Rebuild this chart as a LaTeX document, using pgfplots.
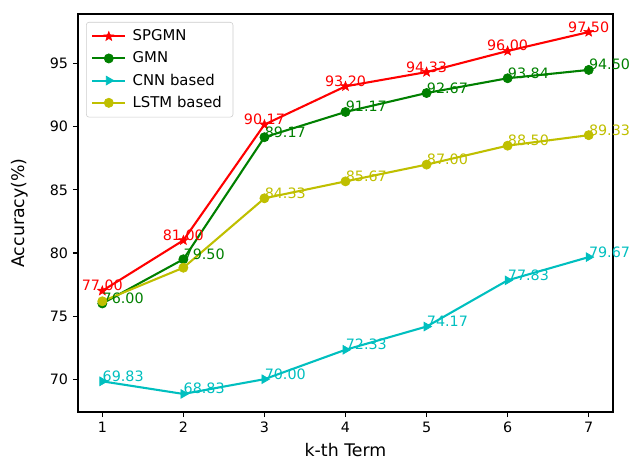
\documentclass[border=0pt]{standalone}
\usepackage{pgfplots}
\pgfplotsset{compat=1.18}
\usepackage{fontspec}
\setmainfont{DejaVu Sans}
\usetikzlibrary{plotmarks}
\definecolor{mplred}{rgb}{1,0,0}
\definecolor{mplgreen}{rgb}{0,0.5,0}
\definecolor{mplcyan}{rgb}{0,0.75,0.75}
\definecolor{mplyellow}{rgb}{0.75,0.75,0}
\pgfdeclareplotmark{fstar}{%
  \pgfpathmoveto{\pgfpointpolar{90}{\pgfplotmarksize}}%
  \pgfpathlineto{\pgfpointpolar{126}{0.42\pgfplotmarksize}}%
  \pgfpathlineto{\pgfpointpolar{162}{\pgfplotmarksize}}%
  \pgfpathlineto{\pgfpointpolar{198}{0.42\pgfplotmarksize}}%
  \pgfpathlineto{\pgfpointpolar{234}{\pgfplotmarksize}}%
  \pgfpathlineto{\pgfpointpolar{270}{0.42\pgfplotmarksize}}%
  \pgfpathlineto{\pgfpointpolar{306}{\pgfplotmarksize}}%
  \pgfpathlineto{\pgfpointpolar{342}{0.42\pgfplotmarksize}}%
  \pgfpathlineto{\pgfpointpolar{18}{\pgfplotmarksize}}%
  \pgfpathlineto{\pgfpointpolar{54}{0.42\pgfplotmarksize}}%
  \pgfpathclose
  \pgfusepathqfillstroke}
\begin{document}
\begin{tikzpicture}
\path[use as bounding box] (-56.16pt,-38.88pt) rectangle (398.88pt,296.64pt);
\begin{axis}[
  at={(0,0)}, anchor=south west,
  scale only axis, width=385.2pt, height=286.56pt,
  xmin=0.7, xmax=7.3, ymin=67.4, ymax=98.93,
  xtick={1,2,3,4,5,6,7},
  ytick={70,75,80,85,90,95},
  xtick pos=left, ytick pos=left,
  tick align=outside, major tick length=3.6pt,
  every tick/.style={black, line width=0.8pt},
  axis line style={line width=0.8pt},
  /pgf/number format/assume math mode=true,
  ticklabel style={font=\fontsize{10.3}{12}\selectfont},
  xlabel={k-th Term}, ylabel={Accuracy(\%)},
  label style={font=\fontsize{12.5}{14}\selectfont},
  xlabel style={at={(axis description cs:0.5,-0.113)}, anchor=base},
  ylabel style={at={(axis description cs:-0.0992,0.5)}, anchor=base, rotate=0},
  clip=false,
  legend style={at={(axis description cs:0.015,0.98)}, anchor=north west,
    draw=black!20, rounded corners=2pt, font=\fontsize{10.7}{12}\selectfont,
    row sep=2.4pt, inner xsep=3.5pt, inner ysep=3.5pt,
    nodes={inner xsep=4.5pt}},
  legend cell align=left,
  legend image code/.code={\draw[mark repeat=2,mark phase=2] plot coordinates {(0cm,0cm) (0.42cm,0cm) (0.84cm,0cm)};},
  nodes near coords={\pgfplotspointmeta},
  point meta=explicit symbolic,
  every node near coord/.append style={font=\fontsize{10.3}{12}\selectfont, inner sep=0pt, anchor=base west},
  every axis plot/.append style={line width=1.5pt},
]
\addplot[color=mplred, mark=fstar, mark size=3.6pt, mark options={fill=mplred, line width=0.4pt},
  every node near coord/.append style={anchor=base, text=mplred}]
  table[meta=l] {
x y l
1 77.00 77.00
2 81.00 81.00
3 90.17 90.17
4 93.20 93.20
5 94.33 94.33
6 96.00 96.00
7 97.50 97.50
};
\addlegendentry{SPGMN}
\addplot[color=mplgreen, mark=*, mark size=3.3pt, mark options={line width=0.5pt},
  every node near coord/.append style={text=mplgreen}]
  table[meta=l] {
x y l
1 76.00 76.00
2 79.50 79.50
3 89.17 89.17
4 91.17 91.17
5 92.67 92.67
6 93.84 93.84
7 94.50 94.50
};
\addlegendentry{GMN}
\addplot[color=mplcyan, mark=triangle*, mark size=3.6pt, mark options={rotate=-90, line width=0.5pt},
  every node near coord/.append style={text=mplcyan}]
  table[meta=l] {
x y l
1 69.83 69.83
2 68.83 68.83
3 70.00 70.00
4 72.33 72.33
5 74.17 74.17
6 77.83 77.83
7 79.67 79.67
};
\addlegendentry{CNN based}
\addplot[color=mplyellow, mark=*, mark size=3.3pt, mark options={line width=0.5pt},
  every node near coord/.append style={text=mplyellow}]
  table[meta=l] {
x y l
1 76.17 {}
2 78.83 {}
3 84.33 84.33
4 85.67 85.67
5 87.00 87.00
6 88.50 88.50
7 89.33 89.33
};
\addlegendentry{LSTM based}
\end{axis}
\end{tikzpicture}
\end{document}
